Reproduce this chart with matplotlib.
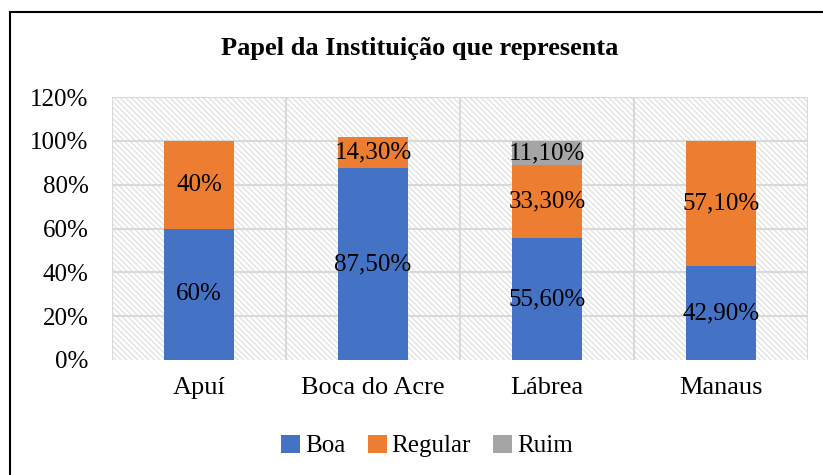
import numpy as np
import matplotlib
matplotlib.use("Agg")
import matplotlib.pyplot as plt
from matplotlib.patches import Rectangle
from matplotlib.ticker import FuncFormatter

plt.rcParams["font.family"] = ["Liberation Serif", "DejaVu Serif"]
plt.rcParams["hatch.linewidth"] = 1.0

categories = ["Apuí", "Boca do Acre", "Lábrea", "Manaus"]
boa = [60.0, 87.5, 55.6, 42.9]
regular = [40.0, 14.3, 33.3, 57.1]
ruim = [0.0, 0.0, 11.1, 0.0]
boa_lbl = ["60%", "87,50%", "55,60%", "42,90%"]
reg_lbl = ["40%", "14,30%", "33,30%", "57,10%"]
ruim_lbl = ["", "", "11,10%", ""]

BLUE, ORANGE, GRAY = "#4472C4", "#ED7D31", "#A5A5A5"
GRID = "#d9d9d9"

fig = plt.figure(figsize=(8.23, 4.75), dpi=100)
ax = fig.add_axes([112 / 823, 115 / 475, 696 / 823, 263 / 475])

x = np.arange(len(categories))
ax.set_xlim(-0.5, len(categories) - 0.5)
ax.set_ylim(0, 120)

# hatched plot background
ax.add_patch(Rectangle((0, 0), 1, 1, transform=ax.transAxes, fill=False,
                       hatch="\\" * 6, ec="#e3e3e3", lw=0, zorder=0))
for y in range(20, 121, 20):
    ax.axhline(y, color=GRID, lw=1.5, zorder=1)
for xv in np.arange(-0.5, len(categories), 1.0):
    ax.axvline(xv, color=GRID, lw=1.5, zorder=1)

w = 0.4
b1 = ax.bar(x, boa, w, color=BLUE, zorder=3, label="Boa")
b2 = ax.bar(x, regular, w, bottom=boa, color=ORANGE, zorder=3, label="Regular")
bot3 = [a + b for a, b in zip(boa, regular)]
b3 = ax.bar(x, ruim, w, bottom=bot3, color=GRAY, zorder=3, label="Ruim")

ax.bar_label(b1, labels=boa_lbl, label_type="center", fontsize=18, zorder=4)
ax.bar_label(b2, labels=reg_lbl, label_type="center", fontsize=18, zorder=4)
ax.bar_label(b3, labels=ruim_lbl, label_type="center", fontsize=18, zorder=4)

ax.set_yticks(range(0, 121, 20))
ax.yaxis.set_major_formatter(FuncFormatter(lambda v, p: f"{v:.0f}%"))
ax.set_xticks(x)
ax.set_xticklabels(categories)
ax.tick_params(axis="y", length=0, labelsize=18, colors="black", pad=17)
ax.tick_params(axis="x", length=0, labelsize=19, colors="black", pad=12)
for s in ax.spines.values():
    s.set_visible(False)

fig.text(0.51, 1 - 49 / 475, "Papel da Instituição que representa",
         ha="center", va="center", fontsize=19, fontweight="bold")

fig.legend(handles=[b1, b2, b3], labels=["Boa", "Regular", "Ruim"],
           loc="center", bbox_to_anchor=(0.519, 1 - 446 / 475), ncol=3,
           frameon=False, fontsize=18, handlelength=0.75, handleheight=0.75,
           handletextpad=0.2, columnspacing=0.9)

# chart border
fig.add_artist(Rectangle((10 / 823, -0.1), 1.2, 1.1 - 12 / 475,
                         transform=fig.transFigure, fill=False,
                         ec="black", lw=1.5))

fig.savefig("out.png", facecolor="white")
